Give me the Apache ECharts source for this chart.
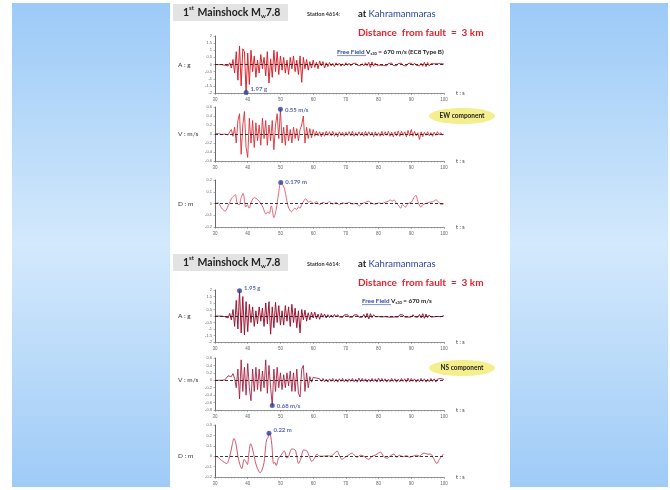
<!DOCTYPE html>
<html><head><meta charset="utf-8">
<script src="https://cdn.jsdelivr.net/npm/echarts@6/dist/echarts.min.js"></script>
<style>html,body{margin:0;padding:0;background:#fff}#c{width:670px;height:490px}</style>
</head><body><div id="c"></div>
<script>
// ---- data ----
const tStart = 30, tStep = 0.5; // sample times of A and V records (s)
const xTicks = [30, 40, 50, 60, 70, 80, 90, 100];

const accEW = [
 0,0.01,-0.01,0.01,-0.01,0.02,-0.05,0.08,-0.1,0.12,
 -0.25,0.35,-0.6,0.9,-1.1,1.3,-1.5,1.1,0.9,-1.97,
 0.8,-1.4,1.0,-0.5,0.6,-0.9,0.3,-0.6,0.7,-0.3,
 0.5,-0.8,0.9,-1.3,0.4,-0.9,1.0,-0.5,0.9,-0.7,
 0.6,-0.4,0.5,-0.6,0.3,-0.7,0.5,-0.3,0.6,-0.5,
 0.3,-0.7,0.6,-1.25,0.5,-0.3,0.35,-0.4,0.2,-0.25,
 0.3,-0.2,0.15,-0.3,0.25,-0.1,0.2,-0.25,0.12,-0.15,
 0.14,-0.1,0.08,-0.15,0.12,-0.06,0.1,-0.12,0.05,-0.1,
 0.12,-0.06,0.09,-0.1,0.05,-0.08,0.1,-0.05,0.07,-0.09,
 0.06,-0.1,0.12,-0.08,0.15,-0.2,0.18,-0.12,0.1,-0.06,
 0.08,-0.05,0.09,-0.07,0.05,-0.09,0.07,-0.04,0.1,-0.07,
 0.05,-0.09,0.07,-0.05,0.09,-0.07,0.04,-0.1,0.07,-0.05,
 0.09,-0.06,0.1,-0.05,0.08,-0.1,0.09,-0.12,0.15,-0.15,
 0.14,-0.1,0.06,-0.08,0.05,-0.07,0.06,-0.04,0.06,-0.03,
 0.03];
const velEW = [
 0,0,0.01,0,-0.01,0.01,0,0.04,-0.02,0.05,
 0.1,-0.05,0.15,-0.2,0.3,0.45,-0.45,0.2,0.5,-0.3,
 -0.52,0.35,-0.2,0.3,-0.3,0.25,-0.15,0.2,-0.25,0.35,
 -0.1,0.3,-0.25,0.2,-0.15,0.3,-0.35,0.2,0.45,-0.1,
 0.55,-0.2,0.15,-0.25,0.2,-0.15,0.1,-0.2,0.15,-0.1,
 0.12,-0.15,0.1,0.2,0.4,-0.2,0.15,-0.1,0.12,-0.08,
 0.1,-0.05,0.06,-0.04,0.05,-0.06,0.04,-0.05,0.06,-0.03,
 0.05,-0.04,0.06,-0.05,0.03,-0.06,0.05,-0.03,0.04,-0.05,
 0.04,-0.03,0.05,-0.04,0.06,-0.05,0.03,-0.04,0.05,-0.03,
 0.04,-0.05,0.06,-0.04,0.05,-0.03,0.04,-0.06,0.05,-0.04,
 0.03,-0.05,0.06,-0.04,0.05,-0.03,0.06,-0.05,0.04,-0.06,
 0.05,-0.04,0.07,-0.05,0.06,-0.03,0.05,-0.06,0.08,-0.04,
 0.1,-0.05,0.06,-0.04,0.03,-0.12,0.05,-0.06,0.04,-0.03,
 0.05,-0.04,0.03,-0.05,0.04,-0.03,0.05,-0.02,0.03,-0.02,
 0];
const dispEW = [
 [30,0],[31,0.005],[32,-0.04],[33.1,-0.065],[34,-0.02],[35,0.04],[35.6,0.06],[36.2,0.076],[36.8,0],[37.4,-0.01],
 [38,0.05],[38.6,0.085],[39.4,-0.03],[39.9,-0.01],[40.4,-0.04],[41.2,0.02],[42,0.05],[42.5,0.045],[43.5,0.02],[44.6,-0.03],
 [45.6,-0.09],[46.2,-0.07],[46.6,-0.085],[47.2,-0.02],[48,-0.12],[48.7,-0.05],[49.4,0.08],[50.1,0.179],[50.7,0.16],[51.3,0.12],
 [52.4,-0.03],[53.4,-0.07],[54,-0.05],[54.4,-0.04],[55,-0.05],[55.5,-0.03],[56,-0.04],[56.5,-0.01],[57.1,0.02],[57.6,0.04],
 [58.1,0.03],[58.6,0.01],[59.2,0.02],[60,0],[61,0.015],[62,-0.01],[63,0.01],[64,0],[65,0.015],[66,-0.005],
 [67,0.01],[68,-0.01],[69,0.005],[70,0],[71,0.01],[72,-0.005],[73,0],[74.2,-0.02],[75,0],[76,0.01],
 [76.8,0.02],[78,0],[79,-0.005],[80,0.005],[81,0],[82,0.01],[83,0.02],[83.6,0.03],[84.2,0.02],[84.8,0.03],
 [85.5,0],[86.2,-0.02],[86.7,-0.04],[87.3,-0.01],[88.2,-0.03],[89,0],[90,0.01],[90.8,0.05],[91.4,0.07],[92,0.02],
 [92.9,-0.03],[93.5,-0.01],[94.5,0],[95.5,0.01],[96.5,0.015],[97.6,0.03],[98.4,0.01],[99.2,-0.01],[100,0]];

const accNS = [
 0,0.01,-0.01,0.01,-0.01,0.02,-0.05,0.1,-0.15,0.2,
 -0.3,0.5,-0.8,1.2,-1.0,1.95,-1.3,1.5,-1.45,1.1,
 -1.2,0.9,-0.5,0.7,-0.8,0.4,-0.6,0.7,-0.4,0.6,
 -0.8,1.0,-0.6,1.1,-1.4,0.7,-0.9,1.05,-0.5,0.8,
 -0.7,0.4,-0.7,0.8,-0.4,0.7,-0.8,0.9,-0.5,0.6,
 -0.9,0.4,-1.3,0.5,-0.3,0.45,-0.4,0.25,-0.3,0.3,
 -0.15,0.3,-0.2,0.15,-0.25,0.2,-0.1,0.15,-0.15,0.1,
 -0.12,0.08,-0.1,0.12,-0.06,0.1,-0.08,0.05,-0.1,0.08,
 -0.05,0.1,-0.08,0.06,-0.1,0.08,-0.05,0.09,-0.08,0.06,
 -0.1,0.12,-0.15,0.2,-0.22,0.18,-0.12,0.1,-0.06,0.09,
 -0.05,0.1,-0.07,0.08,-0.05,0.09,-0.08,0.04,-0.09,0.06,
 -0.07,0.05,-0.08,0.1,-0.04,0.08,-0.09,0.05,-0.08,0.06,
 -0.08,0.1,-0.06,0.08,-0.1,0.12,-0.15,0.18,-0.18,0.15,
 -0.12,0.08,-0.08,0.05,-0.06,0.07,-0.04,0.05,-0.05,0.03,
 0.02];
const velNS = [
 0,0,0,0.01,0,0,0.01,0.05,0.12,0.15,
 0.1,0.18,0.05,-0.2,0.3,-0.5,0.55,-0.3,0.35,-0.4,
 0.45,-0.2,-0.55,0.3,-0.3,0.35,-0.25,0.3,-0.3,0.25,
 -0.2,0.55,-0.35,0.4,-0.2,-0.68,0.3,-0.3,0.35,-0.2,
 0.2,-0.25,0.15,-0.2,0.2,-0.15,0.25,-0.3,0.2,-0.3,
 0.3,-0.35,-0.45,0.3,0.4,-0.3,0.2,-0.2,0.1,-0.05,
 0.08,0.05,0.06,0.02,0.04,-0.03,0.05,-0.04,0.03,-0.05,
 0.04,-0.03,0.05,-0.04,0.03,-0.05,0.04,-0.03,0.05,-0.04,
 0.03,-0.05,0.04,-0.03,0.05,-0.04,0.03,-0.05,0.06,-0.04,
 0.05,-0.03,0.04,-0.05,0.03,-0.04,0.05,-0.03,0.04,-0.05,
 0.06,-0.04,0.05,-0.03,0.04,-0.05,0.03,-0.04,0.05,-0.03,
 0.04,-0.05,0.03,-0.04,0.05,-0.03,0.04,-0.05,0.06,-0.04,
 0.05,-0.03,0.04,-0.05,0.03,-0.04,0.05,-0.03,0.04,-0.05,
 0.03,-0.04,0.05,-0.03,0.04,-0.05,0.03,0.02,0.05,0.03,
 0.02];
const dispNS = [
 [30,0],[31,-0.01],[32,-0.04],[33.6,-0.07],[34.5,0],[35.2,0.1],[35.8,0.17],[36.4,0.12],[37,0],[37.6,-0.08],
 [38.2,-0.12],[38.9,-0.03],[39.4,-0.05],[39.9,-0.08],[40.4,0.04],[40.9,0.12],[41.4,0.08],[42.3,-0.05],[43,-0.12],[43.8,-0.16],
 [44.4,-0.13],[45,-0.06],[45.5,0.1],[45.8,0.16],[46.2,0.18],[46.5,0.22],[47,0.2],[47.4,0.1],[47.9,-0.07],[48.3,-0.06],
 [48.7,-0.09],[49.4,-0.02],[50.2,0.01],[51.2,0.05],[52,-0.02],[52.5,0],[53.5,0.07],[54.5,0.06],[55,0],[55.5,-0.07],
 [56.2,-0.03],[57.1,0.06],[58.1,0.05],[58.8,0],[59.6,-0.05],[60.4,-0.02],[61.2,0.02],[62,0],[63.2,0],[64.2,0.005],
 [65.3,0],[66.3,0.02],[67.3,0.05],[68,0.01],[68.8,-0.03],[69.8,-0.01],[70.8,0.01],[71.9,0.03],[72.6,0.01],[73.4,-0.01],
 [74.5,0.01],[75.5,0],[76.3,-0.02],[77,-0.03],[78,0],[79,0.01],[80,0.03],[80.6,0.04],[81.5,0],[82.6,-0.02],
 [83.5,0],[84.7,0.02],[85.5,-0.01],[86.5,0.01],[87.5,-0.005],[88.5,0.005],[89.5,-0.01],[90.5,0],[91.5,0.01],[92.5,0],
 [93.3,0.02],[93.9,0.03],[94.9,0.02],[95.9,0.02],[96.8,-0.02],[97.8,-0.07],[98.6,-0.03],[99.8,0.02]];

const peakT = [39.5, 50.0, 50.1, 37.5, 47.5, 46.5];
const peakV = [-1.97, 0.55, 0.179, 1.95, -0.68, 0.22];
const peakLabels = ['1.97 g', '0.55 m/s', '0.179 m', '1.95 g', '0.68 m/s', '0.22 m'];
const axisNames = ['A : g', 'V : m/s', 'D : m', 'A : g', 'V : m/s', 'D : m'];
const yMin = [-2, -0.6, -0.2, -2, -0.8, -0.2];
const yMax = [2, 0.6, 0.2, 2, 0.6, 0.3];
const yStep = [0.5, 0.2, 0.1, 0.5, 0.2, 0.1];

// ---- layout / style ----
const gridTop = [36, 107, 180, 290, 358, 425];
const gridH = [57, 54, 47, 52, 52, 52];
const GL = 215, GW = 229;
const colors = ['#d61f28', '#d42830', '#e0566a', '#9c0e2c', '#a51638', '#c8445a'];
const widths = [0.95, 0.85, 0.9, 0.95, 0.85, 0.9];
const peakLabelOffset = [[0,-4],[0,1],[0,0],[0,-3],[0,1],[0,-3]];

function toPairs(vals){ return vals.map((v,i)=>[tStart + i*tStep, v]); }
const seriesData = [toPairs(accEW), toPairs(velEW), dispEW, toPairs(accNS), toPairs(velNS), dispNS];

const chart = echarts.init(document.getElementById('c'), null, {renderer:'canvas'});
const grids=[], xAxes=[], yAxes=[], series=[];
for (let k=0;k<6;k++){
  grids.push({left:GL, top:gridTop[k], width:GW, height:gridH[k], containLabel:false});
  xAxes.push({type:'value', gridIndex:k, min:xTicks[0], max:xTicks[xTicks.length-1], interval:10,
    axisLine:{onZero:false, lineStyle:{color:'#777', width:0.8}},
    axisTick:{show:true, length:2, lineStyle:{color:'#777', width:0.6}},
    minorTick:{show:true, splitNumber:10, length:1.5, lineStyle:{color:'#888', width:0.5}},
    splitLine:{show:false},
    axisLabel:{fontSize:4.5, color:'#666', margin:4, fontFamily:'Liberation Sans'}});
  yAxes.push({type:'value', gridIndex:k, min:yMin[k], max:yMax[k], interval:yStep[k],
    axisLine:{show:true, lineStyle:{color:'#444', width:0.8}},
    axisTick:{show:true, length:1.5, lineStyle:{color:'#666', width:0.5}},
    splitLine:{show:false},
    axisLabel:{fontSize:4, color:'#666', margin:3, fontFamily:'Liberation Sans'}});
  series.push({type:'line', xAxisIndex:k, yAxisIndex:k, data:seriesData[k], showSymbol:false,
    symbol:'none', smooth: (k===2||k===5)?0.3:false, lineStyle:{color:colors[k], width:widths[k]},
    animation:false, z:2,
    markLine:{silent:true, symbol:'none', animation:false, label:{show:false},
      lineStyle:{color:'#222', type:[3,2], width:0.9}, data:[{yAxis:0}]}});
  series.push({type:'scatter', xAxisIndex:k, yAxisIndex:k, data:[[peakT[k], peakV[k]]],
    symbolSize:5, itemStyle:{color:'#2b3f9e'}, z:5, animation:false,
    label:{show:true, position:'right', distance:2, offset:peakLabelOffset[k], formatter:peakLabels[k],
      color:'#2b3f9e', fontSize:6, fontWeight:'bold', fontFamily:'Lato'}});
}

const BLUE = '#2a46a8';
const graphic = [];
// background panels
const bgGrad = {type:'linear', x:0, y:0, x2:0, y2:1, colorStops:[
  {offset:0, color:'#9ccaf7'}, {offset:0.5, color:'#d3e9fc'}, {offset:1, color:'#9fcbf7'}]};
graphic.push({type:'rect', shape:{x:12, y:3, width:656, height:484}, style:{fill:bgGrad}, z:-10, silent:true});
graphic.push({type:'rect', shape:{x:170, y:0, width:340, height:490}, style:{fill:'#ffffff'}, z:-9, silent:true});

function header(y0){
  graphic.push({type:'rect', shape:{x:173, y:y0, width:115, height:17}, style:{fill:'#e3e3e3'}, z:1});
  graphic.push({type:'text', x:183, y:y0+8.5, z:2, style:{
    text:'{a|1}{s|st}{a| Mainshock M}{w|w}{a|7.8}', verticalAlign:'middle',
    rich:{a:{fontSize:10.5, fontWeight:'bold', fontFamily:'Lato', fill:'#222', lineHeight:14},
          s:{fontSize:6, fontWeight:'bold', fontFamily:'Lato', fill:'#222', verticalAlign:'top', lineHeight:14, padding:[0,1,6,0]},
          w:{fontSize:6, fontWeight:'bold', fontFamily:'Lato', fill:'#222', verticalAlign:'bottom', lineHeight:14, padding:[5,0,0,0]}}}});
  graphic.push({type:'text', x:307, y:y0+10, z:2, style:{text:'Station 4614:', fontSize:5.5, fontWeight:'bold', fontFamily:'Lato', fill:'#333', verticalAlign:'middle'}});
  graphic.push({type:'text', x:358, y:y0+10, z:2, style:{
    text:'{a|at }{b|Kahramanmaras}', verticalAlign:'middle',
    rich:{a:{fontSize:9.5, fontFamily:'Lato', fontWeight:'bold', fill:'#222'}, b:{fontSize:9.5, fontFamily:'Lato', fill:BLUE}}}});
  graphic.push({type:'text', x:358, y:y0+29, z:2, style:{text:'Distance  from fault  =  3 km', fontSize:10, fontWeight:'bold', fontFamily:'Lato', fill:'#e8202a', verticalAlign:'middle'}});
}
header(4);
header(254);

function freeField(x, y, tail){
  graphic.push({type:'text', x:x, y:y, z:2, style:{
    text:'{f|Free Field }{v|V}{s|s30}{t|' + tail + '}', verticalAlign:'middle',
    rich:{f:{fontSize:6.3, fontFamily:'Lato', fontWeight:'bold', fill:BLUE},
          v:{fontSize:6.3, fontFamily:'Lato', fontWeight:'bold', fill:'#222'},
          s:{fontSize:4, fontFamily:'Lato', fontWeight:'bold', fill:'#222', verticalAlign:'bottom', padding:[3,0,0,0]},
          t:{fontSize:6.3, fontFamily:'Lato', fontWeight:'bold', fill:'#222'}}}});
  graphic.push({type:'line', shape:{x1:x, y1:y+3.6, x2:x+29, y2:y+3.6}, style:{stroke:BLUE, lineWidth:0.6}, z:2});
}
freeField(337, 52, ' = 670 m/s (EC8 Type B)');
freeField(362, 301, ' = 670 m/s');

// axis names and t:s
for (let k=0;k<6;k++){
  const zeroY = gridTop[k] + gridH[k]*(yMax[k])/(yMax[k]-yMin[k]);
  graphic.push({type:'text', x:178, y:zeroY, z:2, style:{text:axisNames[k], fontSize:6.5, fontFamily:'Lato', fill:'#333', verticalAlign:'middle'}});
  graphic.push({type:'text', x:456, y:gridTop[k]+gridH[k], z:2, style:{text:'t : s', fontSize:5.5, fontFamily:'Lato', fill:'#333', verticalAlign:'middle'}});
}
// component ellipses
function comp(cy, label){
  graphic.push({type:'ellipse', shape:{cx:462, cy:cy, rx:33, ry:8}, style:{fill:'#f4ee8c'}, z:1});
  graphic.push({type:'text', x:462, y:cy, z:2, style:{text:label, fontSize:6.5, fontWeight:'bold', fontFamily:'Lato', fill:'#222', align:'center', verticalAlign:'middle'}});
}
comp(116, 'EW component');
comp(368, 'NS component');

chart.setOption({animation:false, grid:grids, xAxis:xAxes, yAxis:yAxes, series:series, graphic:graphic});
</script></body></html>
